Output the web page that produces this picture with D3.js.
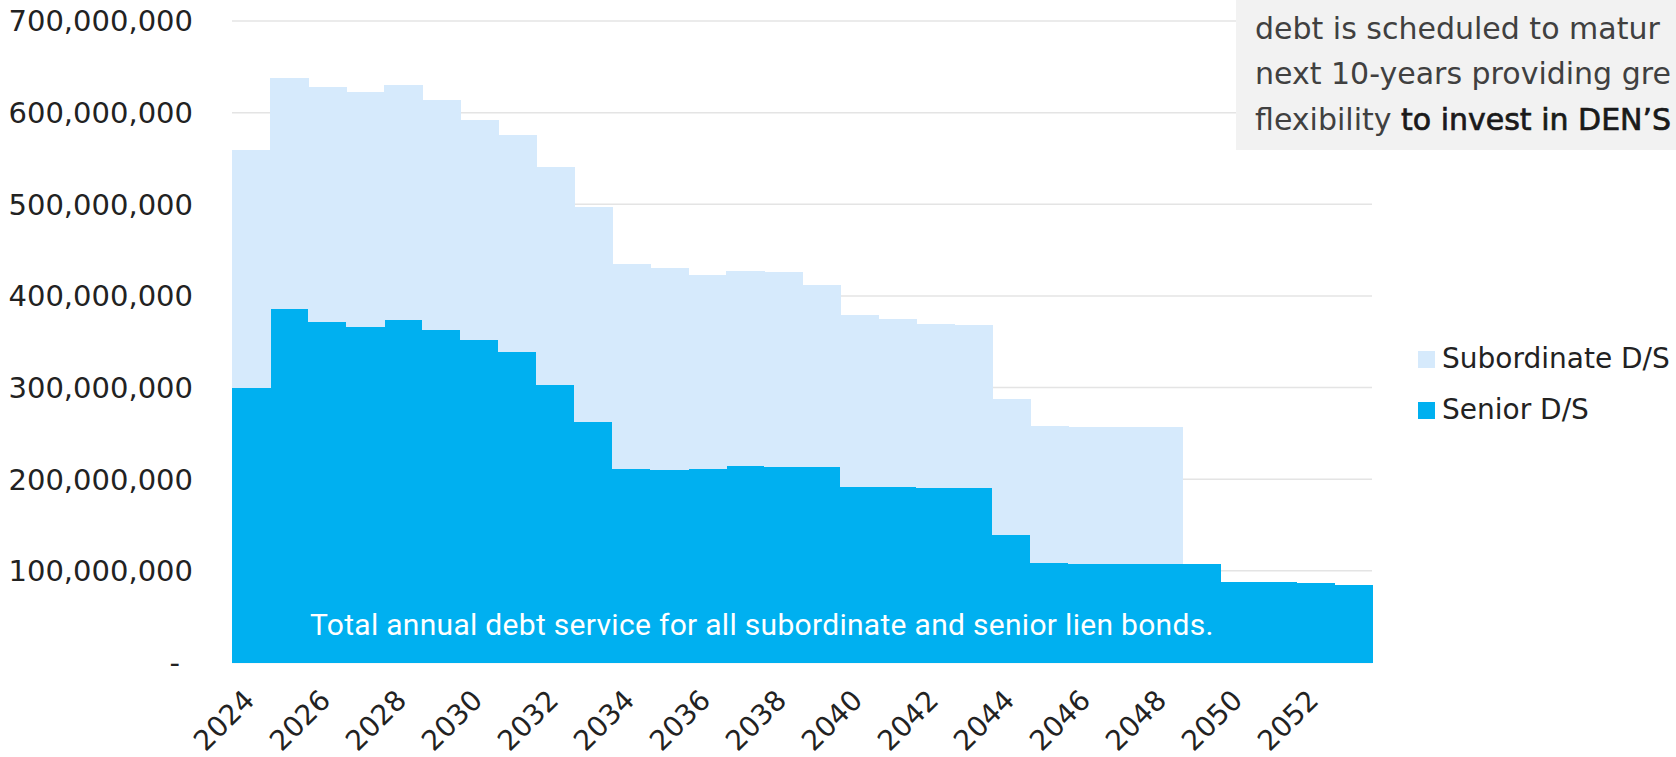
<!DOCTYPE html>
<html>
<head>
<meta charset="utf-8">
<script src="https://cdn.jsdelivr.net/npm/d3@7"></script>
<style>
  body { margin: 0; background: #fff; }
  svg { display: block; }
  .ylab, .xlab, .legend text { font-family: "DejaVu Sans", sans-serif; fill: #222; }
  .note { font-family: Roboto, sans-serif; }
  .callout { font-family: "DejaVu Sans", sans-serif; }
</style>
</head>
<body>
<svg width="1676" height="757"></svg>
<script>
// annual debt service, in millions
const years = [2024, 2025, 2026, 2027, 2028, 2029, 2030, 2031, 2032, 2033,
  2034, 2035, 2036, 2037, 2038, 2039, 2040, 2041, 2042, 2043,
  2044, 2045, 2046, 2047, 2048, 2049, 2050, 2051, 2052, 2053];
const senior = [300, 386, 372, 366, 374, 363, 352, 339, 303, 262,
  211, 210, 211, 214, 213, 213, 192, 192, 190, 190,
  139, 109, 108, 108, 108, 108, 87.5, 87.5, 87, 85];
const subordinate = [259, 252, 256, 256, 256, 251, 240, 237, 238, 235,
  224, 221, 212, 213, 213, 199, 187, 183, 179, 178,
  148, 149, 149, 149, 149, 0, 0, 0, 0, 0];
const yTicks = [0, 100e6, 200e6, 300e6, 400e6, 500e6, 600e6, 700e6];
const xLabelYears = [2024, 2026, 2028, 2030, 2032, 2034, 2036, 2038, 2040, 2042, 2044, 2046, 2048, 2050, 2052];
const seriesNames = ["Subordinate D/S", "Senior D/S"];
const colors = { senior: "#00B0F0", subordinate: "#D6EAFC" };

const svg = d3.select("svg");

const x = d3.scaleBand().domain(years).range([232, 1372]).padding(0);
const y = d3.scaleLinear().domain([0, 700e6]).range([662.5, 21]);

const rows = years.map((yr, i) => ({
  year: yr,
  senior: senior[i] * 1e6,
  subordinate: subordinate[i] * 1e6
}));
const stacked = d3.stack().keys(["senior", "subordinate"])(rows);

// gridlines go under the bars
svg.append("g")
  .selectAll("line")
  .data(yTicks)
  .join("line")
  .attr("x1", 232)
  .attr("x2", 1372)
  .attr("y1", (d) => y(d))
  .attr("y2", (d) => y(d))
  .attr("stroke", "#e4e4e4")
  .attr("stroke-width", 1.5);

svg.append("g")
  .selectAll("g")
  .data(stacked)
  .join("g")
  .attr("fill", (s) => colors[s.key])
  .selectAll("rect")
  .data((s) => s)
  .join("rect")
  .attr("shape-rendering", "crispEdges")
  .attr("x", (d) => x(d.data.year))
  .attr("width", x.bandwidth() + 0.5)
  .attr("y", (d) => y(d[1]))
  .attr("height", (d) => y(d[0]) - y(d[1]));

// y axis labels, accounting style zero
const fmt = d3.format(",");
svg.append("g")
  .selectAll("text")
  .data(yTicks)
  .join("text")
  .attr("class", "ylab")
  .attr("x", (d) => (d === 0 ? 180 : 193))
  .attr("y", (d) => y(d))
  .attr("dy", "0.36em")
  .attr("text-anchor", "end")
  .attr("font-size", 29)
  .text((d) => (d === 0 ? "-" : fmt(d)));

// x axis labels, rotated
svg.append("g")
  .selectAll("text")
  .data(xLabelYears)
  .join("text")
  .attr("class", "xlab")
  .attr("text-anchor", "end")
  .attr("font-size", 28)
  .attr("transform", (d) => `translate(${x(d) + x.bandwidth() / 2 + 5}, 702) rotate(-45)`)
  .text((d) => d);

// legend
const legend = svg.append("g").attr("class", "legend");
const legendKeys = ["subordinate", "senior"];
legendKeys.forEach((k, i) => {
  const row = legend.append("g").attr("transform", `translate(1418, ${351 + i * 51})`);
  row.append("rect").attr("width", 17).attr("height", 17).attr("fill", colors[k]);
  row.append("text").attr("x", 24).attr("y", 16.5).attr("font-size", 28).text(seriesNames[i]);
});

// note inside the senior bars
svg.append("text")
  .attr("class", "note")
  .attr("x", 310)
  .attr("y", 635)
  .attr("font-size", 30)
  .attr("letter-spacing", 0.3)
  .attr("fill", "#fff")
  .text("Total annual debt service for all subordinate and senior lien bonds.");

// call-out box, cut by the top right of the frame
const box = svg.append("g");
box.append("rect")
  .attr("x", 1236)
  .attr("y", -10)
  .attr("width", 460)
  .attr("height", 160)
  .attr("fill", "#f2f2f2");
const boxLines = [
  [["debt is scheduled to matur", false]],
  [["next 10-years providing gre", false]],
  [["flexibility ", false], ["to invest in DEN\u2019S", true]]
];
boxLines.forEach((parts, i) => {
  const t = box.append("text")
    .attr("class", "callout")
    .attr("x", 1255)
    .attr("y", 39 + i * 45.3)
    .attr("font-size", 30)
    .attr("fill", "#404040");
  parts.forEach(([s, bold]) => {
    const sp = t.append("tspan").text(s);
    if (bold) {
      sp.attr("fill", "#1a1a1a").attr("stroke", "#1a1a1a").attr("stroke-width", 0.7);
    }
  });
});
</script>
</body>
</html>
